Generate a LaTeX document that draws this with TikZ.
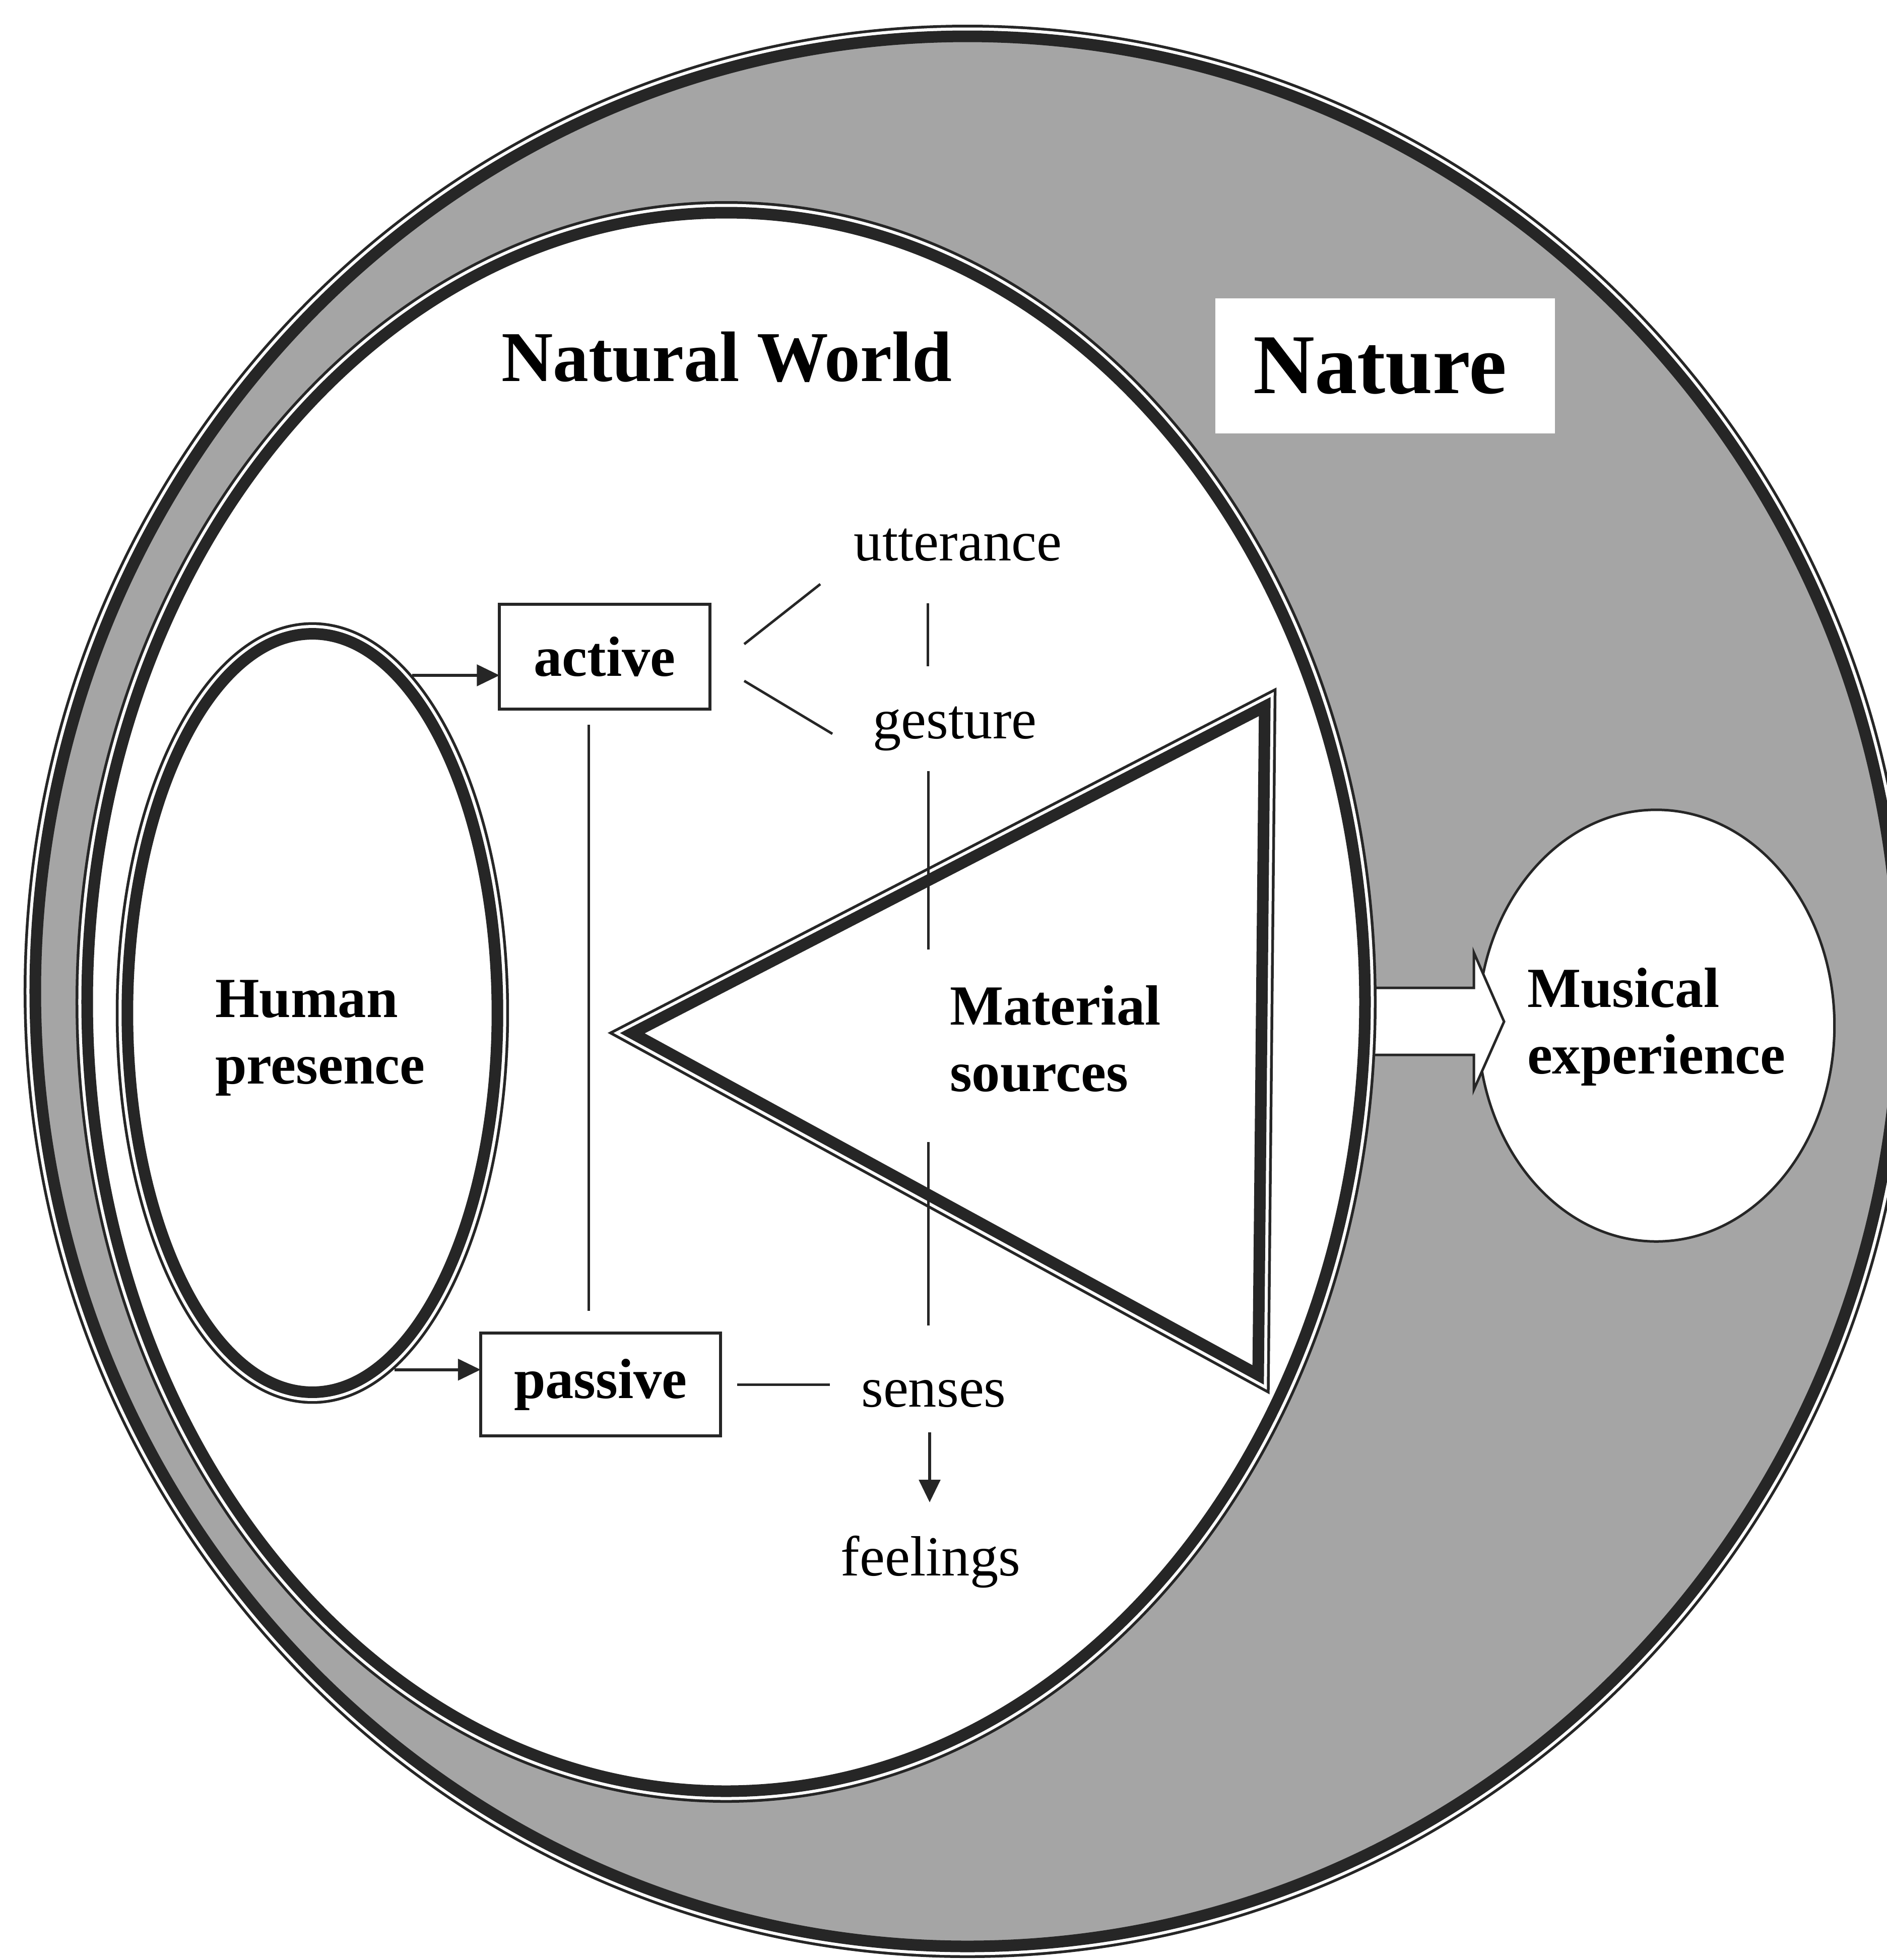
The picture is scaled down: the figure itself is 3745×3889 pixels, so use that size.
\documentclass[tikz,border=0pt]{standalone}
\usepackage{fontspec}
\setmainfont{Liberation Serif}
\usetikzlibrary{arrows.meta,shapes.geometric,calc}
\definecolor{ink}{RGB}{38,38,38}
\definecolor{shade}{RGB}{165,165,165}
\begin{document}
\begin{tikzpicture}[x=0.01cm,y=-0.01cm,
  % thick line inside, thin line outside, white gap between
  ringline/.style={line join=miter,
    preaction={draw=ink,line width=0.46cm,line join=miter},
    preaction={draw=white,line width=0.35cm,line join=miter},
    postaction={draw=ink,line width=0.23cm,line join=miter}},
  rule/.style={draw=ink,line width=0.05cm},
  arr/.style={draw=ink,line width=0.06cm,-{Triangle[length=0.45cm,width=0.42cm]}},
  box/.style={draw=ink,line width=0.06cm,rectangle,inner sep=0,outer sep=0,
    font=\fontsize{32}{37.3}\selectfont\bfseries},
  plain/.style={inner sep=0,outer sep=0,font=\fontsize{32}{37.3}\selectfont},
  bold/.style={inner sep=0,outer sep=0,font=\fontsize{32}{37.3}\selectfont\bfseries,align=left},
]
\useasboundingbox (0,0) rectangle (3745,3889);
\fill[white] (0,0) rectangle (3745,3889);

% Nature: the outer shaded ring
\path[ringline,fill=shade] (1920,1967) ellipse [x radius=1850, y radius=1895];

% Musical experience and the block arrow leading into it
\node[ellipse,draw=ink,line width=0.05cm,fill=white,inner sep=0,outer sep=0,
  minimum width=7.07cm,minimum height=8.56cm] (musical) at (3287,2035) {};
\path[draw=ink,line width=0.05cm,fill=white,line join=miter]
  (2705,1960) -- (2925,1960) -- (2925,1890) -- (2985,2027)
  -- (2925,2162) -- (2925,2093) -- (2705,2093) -- cycle;

% Natural World: the inner white ellipse
\path[ringline,fill=white] (1441,1988) ellipse [x radius=1268, y radius=1566];

\node[inner sep=0,font=\fontsize{40.3}{48}\selectfont\bfseries,anchor=base]
  (naturalworld) at (1442,756) {Natural World};
\node[fill=white,inner sep=0,outer sep=0,minimum width=6.74cm,minimum height=2.68cm,
  font=\fontsize{48}{56}\selectfont\bfseries] (nature) at (2749,726) {\hspace*{-0.2cm}Nature};

% Human presence
\node[ellipse,ringline,fill=white,inner sep=0,outer sep=0,
  minimum width=7.34cm,minimum height=15.04cm] (human) at (620,2010) {};
\node[bold,anchor=base west] (humanlabel) at (427,2150) {Human\\presence};

% Material sources
\coordinate (tA) at (1255,2050);
\coordinate (tB) at (2510,1402);
\coordinate (tC) at (2497,2728);
\path[ringline,fill=white] (tA) -- (tB) -- (tC) -- cycle;
\node[bold,anchor=base west] (material) at (1885,2165) {Material\\sources};

\node[bold,anchor=base west] (musicallabel) at (3031,2130) {Musical\\experience};

% active / passive
\node[box,minimum width=4.17cm,minimum height=2.07cm] (active) at (1200,1303) {active};
\node[box,minimum width=4.76cm,minimum height=2.03cm] (passive) at (1192,2747) {passive};

\node[plain,anchor=base] (utterance) at (1901,1112) {utterance};
\node[plain,anchor=base] (gesture) at (1895,1465) {gesture};
\node[plain,anchor=base] (senses) at (1853,2791) {senses};
\node[plain,anchor=base] (feelings) at (1847,3126) {feelings};

% connectors
\draw[arr,shorten <=0.31cm] (human.76) -- (human.76 -| active.west);
\draw[arr,shorten <=0.38cm] (human.-80) -- (human.-80 -| passive.west);

\coordinate (apTop) at (1168,1438);
\coordinate (apBot) at (1168,2601);
\draw[rule] (apTop) -- (apBot);

\coordinate (utA) at (1477,1278);
\coordinate (utB) at (1628,1159);
\coordinate (geA) at (1477,1351);
\coordinate (geB) at (1652,1456);
\draw[rule] (utA) -- (utB);
\draw[rule] (geA) -- (geB);

\coordinate (c1a) at (1841,1197);
\coordinate (c1b) at (1841,1322);
\coordinate (c2a) at (1842,1530);
\coordinate (c2b) at (1842,1884);
\coordinate (c3a) at (1842,2266);
\coordinate (c3b) at (1842,2630);
\draw[rule] (c1a) -- (c1b);
\draw[rule] (c2a) -- (c2b);
\draw[rule] (c3a) -- (c3b);

\draw[rule,shorten <=0.33cm,shorten >=0.62cm] (passive.east) -- (passive.east -| senses.west);

\coordinate (fa) at (1845,2842);
\coordinate (fb) at (1845,2981);
\draw[arr] (fa) -- (fb);
\end{tikzpicture}
\end{document}
